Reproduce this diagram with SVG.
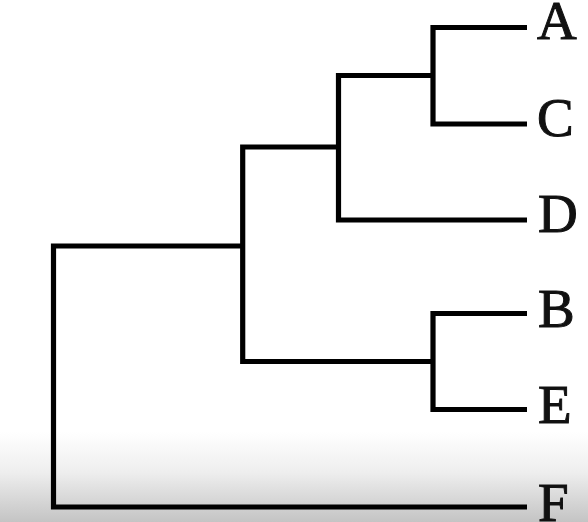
<svg xmlns="http://www.w3.org/2000/svg" width="588" height="522" viewBox="0 0 588 522">
<defs>
<linearGradient id="fade" x1="0" y1="0" x2="0" y2="1">
<stop offset="0" stop-color="#ffffff"/>
<stop offset="0.45" stop-color="#eeeeee"/>
<stop offset="1" stop-color="#c4c4c4"/>
</linearGradient>
<style>
.edge{fill:none;stroke:#000;stroke-width:5.2;stroke-linejoin:miter;stroke-linecap:butt}
.lbl{font-family:"Liberation Serif","Times New Roman",serif;font-size:55px;fill:#111;stroke:#111;stroke-width:1}
</style>
</defs>
<rect x="0" y="0" width="588" height="522" fill="#fff"/>
<rect x="0" y="432" width="588" height="90" fill="url(#fade)"/>
<g id="connectors">
<path class="edge" d="M527,27.5 H433 V124 H527"/>
<path class="edge" d="M433,75.5 H338.5 V220 H527"/>
<path class="edge" d="M527,313.5 H433 V409.5 H527"/>
<path class="edge" d="M338.5,147 H242.7 V361.5 H433"/>
<path class="edge" d="M242.7,246 H53.5 V507 H527"/>
</g>
<g id="node-A"><text class="lbl" x="537" y="39">A</text></g>
<g id="node-C"><text class="lbl" x="537" y="135.5">C</text></g>
<g id="node-D"><text class="lbl" x="538" y="231.5">D</text></g>
<g id="node-B"><text class="lbl" x="538" y="326.5">B</text></g>
<g id="node-E"><text class="lbl" x="538" y="423">E</text></g>
<g id="node-F"><text class="lbl" x="538" y="521">F</text></g>
</svg>
